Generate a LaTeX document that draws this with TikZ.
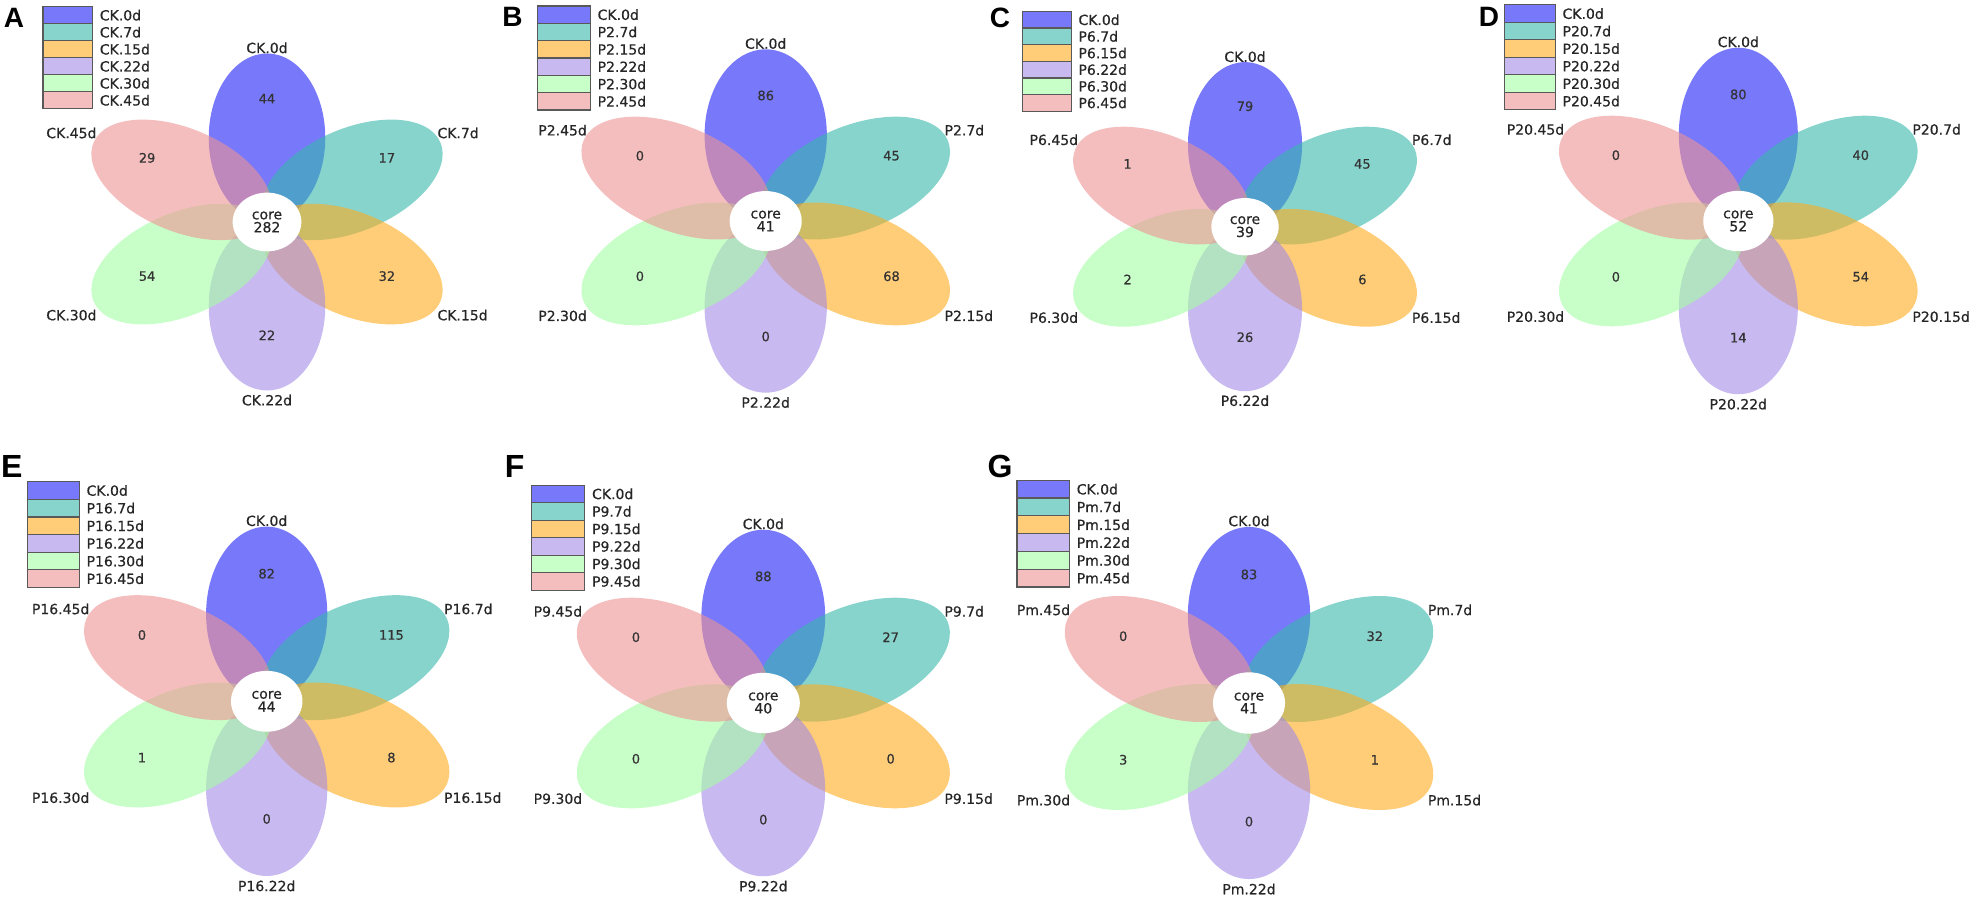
\documentclass[tikz,border=0pt]{standalone}
\usepackage{fontspec}
\setmainfont{DejaVu Sans}[FakeBold=0.5]
\newfontfamily\markfont{Liberation Sans}
\usepackage{tikz}

\definecolor{cblue}{RGB}{30,30,247}
\definecolor{cteal}{RGB}{55,183,172}
\definecolor{corange}{RGB}{255,172,30}
\definecolor{cpurple}{RGB}{163,138,230}
\definecolor{cgreen}{RGB}{163,255,163}
\definecolor{cpink}{RGB}{238,147,147}

% one flower: #1 panel, #2 centre, #3 xscale, #4 yscale, #5 sample prefix,
% #6 petal counts, #7 core count, #8 legend corner
\newcommand{\flower}[8]{%
  \begin{scope}[shift={(#2)}, xscale=#3, yscale=#4]
    \foreach \ang/\col in {90/cblue, 30/cteal, -30/corange,
                           -90/cpurple, -150/cgreen, 150/cpink}
      \fill[petal, fill=\col, rotate=\ang] (99,0) ellipse (99 and 58.5);
    \fill[white] (0,0) circle (34.5);
    \node[corenum] (#1-core) at (0,0) {core\\#7};
    \foreach \cnt [count=\i] in {#6}
      \node[countnum] (#1-n\i) at ({150-60*\i}:139) {\cnt};
    \node[petaltag] (#1-t0) at (0,207) {CK.0d};
    \foreach \day/\x/\y/\anc in {7/171/107/west, 15/171/-107/west,
                                 22/0/-207/center, 30/-171/-107/east,
                                 45/-171/107/east}
      \node[petaltag, anchor=\anc] (#1-t\day) at (\x,\y) {#5.\day d};
    % legend
    \begin{scope}[shift={(#8)}]
      \foreach \col/\txt [count=\i] in {cblue/CK.0d, cteal/#5.7d, corange/#5.15d,
                                        cpurple/#5.22d, cgreen/#5.30d, cpink/#5.45d} {
        \draw[keybox, fill=\col] (0,{20-20*\i}) rectangle ++(50,-20);
        \node[keytext] (#1-k\i) at (57,{10-20*\i}) {\txt};
      }
    \end{scope}
  \end{scope}}

\begin{document}
\begin{tikzpicture}[x=1pt, y=1pt,
    petal/.style={fill opacity=0.6},
    countnum/.style={font=\fontsize{13}{15}\selectfont, text=black!80,
                     inner sep=0pt, yshift=5pt},
    petaltag/.style={font=\fontsize{14}{16}\selectfont, text=black!85,
                     inner sep=0pt, yshift=-2pt},
    corenum/.style={font=\fontsize{14}{13}\selectfont, text=black!85,
                    align=center, inner sep=0pt},
    keybox/.style={draw=black!65, line width=1.2pt, fill opacity=0.6},
    keytext/.style={font=\fontsize{14}{16}\selectfont, text=black!85,
                    anchor=west, inner sep=0pt},
    panelmark/.style={inner sep=0pt}]

  \useasboundingbox (0,0) rectangle (1977,898);

  \flower{A}{267,676}{0.996}{0.851}{CK}{44,17,32,22,54,29}{282}{-225,253}
  \flower{B}{765.7,677}{1.045}{0.867}{P2}{86,45,68,0,0,0}{41}{-218,248}
  \flower{C}{1245,671.3}{0.975}{0.831}{P6}{79,45,6,26,2,1}{39}{-228,259}
  \flower{D}{1738.3,677}{1.017}{0.875}{P20}{80,40,54,14,0,0}{52}{-230,247}
  \flower{E}{266.7,196.7}{1.036}{0.882}{P16}{82,115,8,0,1,0}{44}{-231,249}
  \flower{F}{763.3,195}{1.058}{0.875}{P9}{88,27,0,0,0,0}{40}{-219,249}
  \flower{G}{1249,195}{1.045}{0.889}{Pm}{83,32,1,0,3,0}{41}{-222,250.5}

  % panel letters
  \foreach \mk/\x/\y/\sz in {A/14/880/28, B/512.5/881/28, C/1000/880.5/28,
                             D/1489/881/28, E/11.7/431.3/32, F/514.7/431.3/32,
                             G/1000/431.3/32}
    \node[panelmark, font=\markfont\bfseries\fontsize{\sz}{\sz}\selectfont]
      (mark\mk) at (\x,\y) {\mk};

\end{tikzpicture}
\end{document}
